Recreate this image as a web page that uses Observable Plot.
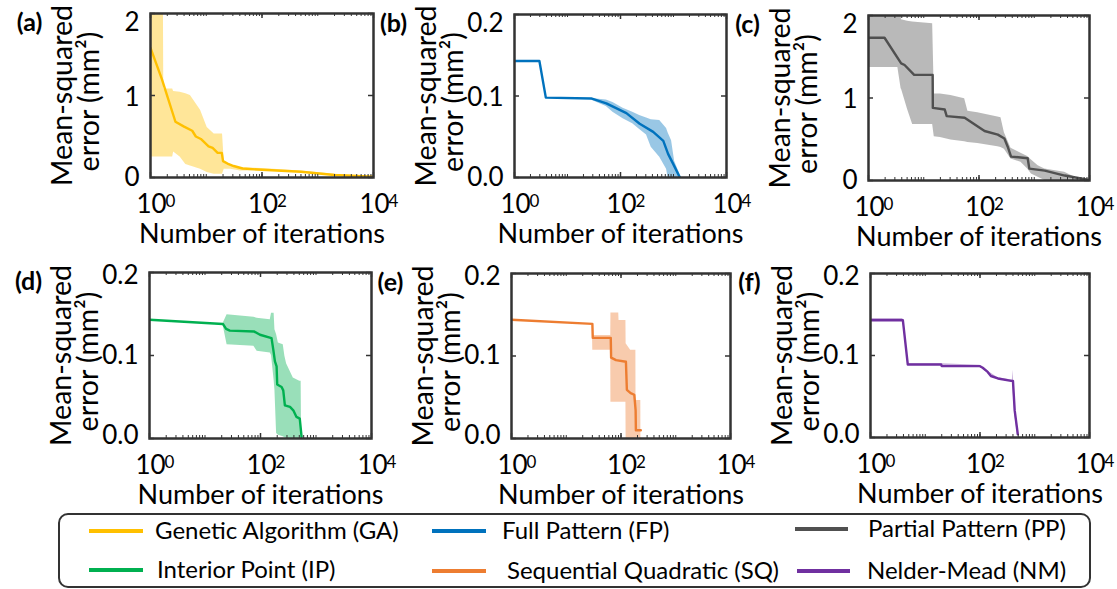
<!DOCTYPE html>
<html>
<head>
<meta charset="utf-8">
<script src="https://cdn.jsdelivr.net/npm/d3@7"></script>
<script src="https://cdn.jsdelivr.net/npm/@observablehq/plot@0.6"></script>
<style>
  html, body { margin: 0; padding: 0; background: #fff; }
  #root { position: relative; width: 1117px; height: 589px; overflow: hidden; font-family: Lato, sans-serif; }
  #root svg { position: absolute; }
  .legend-box { position: absolute; left: 58px; top: 513px; width: 1029px; height: 71px; border: 2px solid #333; border-radius: 10px; }
  .sw { position: absolute; height: 4px; }
  .lt { position: absolute; font-size: 24px; line-height: 1.2; white-space: nowrap; color: #000; }
</style>
</head>
<body>
<div id="root"></div>
<script>
// ---------- data ----------
const seriesNames = ["Genetic Algorithm (GA)", "Full Pattern (FP)", "Partial Pattern (PP)", "Interior Point (IP)", "Sequential Quadratic (SQ)", "Nelder-Mead (NM)"];
const seriesColors = ["#FFC000", "#0072BD", "#505050", "#00B050", "#ED7D31", "#7030A0"];
const panelLetters = ["a", "b", "c", "d", "e", "f"];
const xTickValues = [1, 100, 10000];
const xTickBase = "10";
const xTickExponents = ["0", "2", "4"];
const yTicksTop = [0, 1, 2];
const yTickLabelsTop = ["0", "1", "2"];
const yTicksSmall = [0, 0.1, 0.2];
const yTickLabelsSmall = ["0.0", "0.1", "0.2"];
const xLabel = "Number of iterations";
const yLabelLines = ["Mean-squared", "error (mm²)"];

// GA
const gaIter = [1, 1.6, 2.8, 4, 5.6, 6.5, 8, 11, 13, 16, 19, 20, 24, 31, 45, 100, 500, 2000, 10000];
const gaMse  = [1.58, 1.2, 0.68, 0.62, 0.57, 0.5, 0.47, 0.38, 0.36, 0.3, 0.3, 0.2, 0.17, 0.14, 0.11, 0.095, 0.07, 0.03, 0.01];
const gaBandIter = [1, 1.7, 1.73, 2.5, 2.6, 3.4, 4.3, 5.2, 7.9, 10.4, 13.9, 19.6, 21, 27.5, 41, 100, 500, 2000, 10000];
const gaBandLo   = [0.25, 0.25, 0.25, 0.25, 0.31, 0.25, 0.16, 0.14, 0.1, 0.06, 0.04, 0.04, 0.1, 0.1, 0.08, 0.08, 0.06, 0.025, 0.005];
const gaBandHi   = [2.3, 2.3, 1.08, 1.08, 1.05, 1.04, 1.02, 1.0, 0.82, 0.61, 0.53, 0.53, 0.2, 0.14, 0.12, 0.11, 0.08, 0.04, 0.015];

// FP
const fpIter = [1, 2.95, 3.9, 28, 54, 129, 230, 414, 642, 790, 980, 1320];
const fpMse  = [0.143, 0.143, 0.098, 0.097, 0.091, 0.079, 0.066, 0.056, 0.045, 0.029, 0.017, 0];
const fpBandIter = [28, 54, 72, 112, 170, 230, 310, 380, 550, 740, 790, 920, 1050, 1400];
const fpBandLo   = [0.095, 0.087, 0.08, 0.072, 0.066, 0.059, 0.052, 0.037, 0.025, 0.01, 0, 0, 0, 0];
const fpBandHi   = [0.097, 0.095, 0.092, 0.085, 0.08, 0.076, 0.073, 0.071, 0.07, 0.06, 0.055, 0.045, 0.02, 0];

// PP
const ppIter = [1, 1.95, 3.9, 4.5, 6.7, 14.5, 14.6, 24, 26, 55, 126, 219, 288, 331, 380, 760, 815, 1550, 3550, 9300, 10000];
const ppMse  = [1.73, 1.73, 1.42, 1.40, 1.28, 1.28, 0.88, 0.86, 0.78, 0.76, 0.6, 0.556, 0.51, 0.41, 0.29, 0.27, 0.144, 0.12, 0.06, 0.01, 0.005];
const ppBandIter = [1, 3.4, 3.9, 3.95, 5.1, 6.3, 14.5, 15.5, 20, 31, 55, 63, 95, 219, 250, 288, 380, 575, 760, 890, 1175, 1550, 3550, 4700, 6200, 10000];
const ppBandLo   = [1.37, 1.37, 1.11, 1.11, 0.86, 0.68, 0.68, 0.53, 0.52, 0.49, 0.47, 0.46, 0.45, 0.41, 0.40, 0.38, 0.26, 0.22, 0.14, 0.08, 0.04, 0, 0, 0, 0, 0];
const ppBandHi   = [2.2, 2.2, 2.2, 1.95, 1.93, 1.92, 1.9, 1.05, 1.05, 1.03, 0.99, 0.84, 0.82, 0.77, 0.76, 0.58, 0.39, 0.33, 0.29, 0.25, 0.18, 0.14, 0.1, 0.06, 0.02, 0];

// IP
const ipIter = [1, 21, 24, 28, 76, 98, 158, 170, 182, 195, 200, 240, 257, 275, 340, 390, 445, 510, 550];
const ipMse  = [0.143, 0.138, 0.132, 0.13, 0.129, 0.125, 0.121, 0.107, 0.093, 0.087, 0.065, 0.062, 0.058, 0.04, 0.038, 0.034, 0.026, 0.024, 0.002];
const ipBandIter = [21, 25, 76, 87, 150, 158, 176, 182, 195, 210, 257, 275, 295, 390, 510, 540, 550];
const ipBandLo   = [0.138, 0.113, 0.111, 0.105, 0.103, 0.1, 0.07, 0.058, 0.006, 0.004, 0.002, 0.001, 0, 0, 0, 0, 0];
const ipBandHi   = [0.138, 0.149, 0.146, 0.145, 0.143, 0.151, 0.151, 0.131, 0.125, 0.115, 0.113, 0.099, 0.09, 0.073, 0.069, 0.069, 0];

// SQ
const sqIter = [1, 30, 30.5, 65, 66, 81, 123, 128, 150, 175, 185, 187, 230];
const sqMse  = [0.144, 0.139, 0.122, 0.122, 0.098, 0.095, 0.093, 0.059, 0.055, 0.053, 0.034, 0.01, 0.01];
const sqBandIter = [30, 30.5, 65, 65.5, 91, 92, 123, 124, 150, 187, 188, 230, 231];
const sqBandLo   = [0.138, 0.107, 0.107, 0.044, 0.044, 0.044, 0.044, 0, 0, 0, 0, 0, 0];
const sqBandHi   = [0.139, 0.125, 0.125, 0.152, 0.152, 0.143, 0.143, 0.115, 0.107, 0.107, 0.046, 0.046, 0];

// NM
const nmIter = [1, 3.9, 4.8, 19.5, 20, 100, 112, 138, 158, 212, 370, 400, 430, 490];
const nmMse  = [0.143, 0.143, 0.089, 0.089, 0.087, 0.087, 0.085, 0.08, 0.075, 0.072, 0.069, 0.069, 0.033, 0.004];
const nmBandIter = [1, 3.9, 4.8, 19.5, 100, 138, 212, 390, 400, 430, 490];
const nmBandLo   = [0.142, 0.142, 0.088, 0.088, 0.086, 0.079, 0.071, 0.068, 0.06, 0.028, 0.001];
const nmBandHi   = [0.145, 0.145, 0.09, 0.09, 0.088, 0.081, 0.073, 0.07, 0.082, 0.04, 0.008];

// ---------- layout ----------
const frames = [ // [left, right, top, bottom] of each axes box, px
  [150, 373, 13, 177], [514, 726, 14, 177], [868, 1089, 15, 180],
  [149, 371, 272, 438], [511, 730, 273, 438], [870, 1089, 273, 437]
];
// vertical nudges of the y tick labels (bottom, middle, top), px
const topRowNudge = [0, 2, 9];
const bottomRowNudge = [-3, 0, 3];
const panels = [
  {iter: gaIter, mse: gaMse, bi: gaBandIter, lo: gaBandLo, hi: gaBandHi, yMax: 2, yt: yTicksTop, yl: yTickLabelsTop, nudge: topRowNudge},
  {iter: fpIter, mse: fpMse, bi: fpBandIter, lo: fpBandLo, hi: fpBandHi, yMax: 0.2, yt: yTicksSmall, yl: yTickLabelsSmall, nudge: topRowNudge},
  {iter: ppIter, mse: ppMse, bi: ppBandIter, lo: ppBandLo, hi: ppBandHi, yMax: 2, yt: yTicksTop, yl: yTickLabelsTop, nudge: topRowNudge},
  {iter: ipIter, mse: ipMse, bi: ipBandIter, lo: ipBandLo, hi: ipBandHi, yMax: 0.2, yt: yTicksSmall, yl: yTickLabelsSmall, nudge: bottomRowNudge},
  {iter: sqIter, mse: sqMse, bi: sqBandIter, lo: sqBandLo, hi: sqBandHi, yMax: 0.2, yt: yTicksSmall, yl: yTickLabelsSmall, nudge: bottomRowNudge},
  {iter: nmIter, mse: nmMse, bi: nmBandIter, lo: nmBandLo, hi: nmBandHi, yMax: 0.2, yt: yTicksSmall, yl: yTickLabelsSmall, nudge: bottomRowNudge}
];

const root = document.getElementById("root");
const minorTicks = d3.scaleLog().domain([1, 1e4]).ticks();
const ML = 135, MR = 30, MT = 14, MB = 75;
const axisColor = "#333";

panels.forEach((p, i) => {
  const [l, r, t, b] = frames[i];
  const fw = r - l, fh = b - t;
  const color = seriesColors[i];
  const line = p.iter.map((x, k) => ({x, y: p.mse[k]}));
  const band = p.bi.map((x, k) => ({x, y1: p.lo[k], y2: p.hi[k]}));
  const yLabelMarks = p.yt.map((v, k) =>
    Plot.text([v], {x: 1, y: (d) => d, text: () => p.yl[k], textAnchor: "end", lineAnchor: "middle", dx: -11, dy: p.nudge[k], fontSize: 26})
  );
  const svg = Plot.plot({
    width: fw + ML + MR, height: fh + MT + MB,
    marginLeft: ML, marginRight: MR, marginTop: MT, marginBottom: MB,
    style: {background: "transparent", overflow: "visible", fontFamily: "Lato, sans-serif", fontSize: "24px", color: "#000"},
    x: {type: "log", domain: [1, 1e4], axis: null},
    y: {domain: [0, p.yMax], axis: null},
    marks: [
      Plot.areaY(band, {x: "x", y1: "y1", y2: "y2", fill: color, fillOpacity: 0.4, clip: true}),
      Plot.line(line, {x: "x", y: "y", stroke: color, strokeWidth: 2.4, clip: true}),
      Plot.ruleX(minorTicks, {x: (d) => d, stroke: axisColor, strokeWidth: 1, insetTop: fh - 3}),
      Plot.ruleX(minorTicks, {x: (d) => d, stroke: axisColor, strokeWidth: 1, insetBottom: fh - 3}),
      Plot.ruleX(xTickValues, {x: (d) => d, stroke: axisColor, strokeWidth: 1.5, insetTop: fh - 5}),
      Plot.ruleX(xTickValues, {x: (d) => d, stroke: axisColor, strokeWidth: 1.5, insetBottom: fh - 5}),
      Plot.ruleY(p.yt, {y: (d) => d, stroke: axisColor, strokeWidth: 1.5, insetRight: fw - 5}),
      Plot.ruleY(p.yt, {y: (d) => d, stroke: axisColor, strokeWidth: 1.5, insetLeft: fw - 5}),
      Plot.frame({stroke: axisColor, strokeWidth: 2.5}),
      // x tick labels: base "10" and raised exponent
      Plot.text(xTickValues, {x: (d) => d, frameAnchor: "bottom", text: () => xTickBase, textAnchor: "middle", lineAnchor: "bottom", dx: 1, dy: 35, fontSize: 26}),
      Plot.text(xTickValues, {x: (d) => d, frameAnchor: "bottom", text: (d, k) => xTickExponents[k], textAnchor: "start", lineAnchor: "bottom", dx: 15, dy: 29, fontSize: 17}),
      ...yLabelMarks,
      Plot.text([xLabel], {text: (d) => d, frameAnchor: "bottom", textAnchor: "middle", lineAnchor: "bottom", dy: 65, fontSize: 27}),
      Plot.text([yLabelLines[0]], {text: (d) => d, frameAnchor: "left", textAnchor: "middle", lineAnchor: "middle", rotate: -90, dx: -88, fontSize: 28.5}),
      Plot.text([yLabelLines[1]], {text: (d) => d, frameAnchor: "left", textAnchor: "middle", lineAnchor: "middle", rotate: -90, dx: -61, dy: 6, fontSize: 28.5}),
      Plot.text([`(${panelLetters[i]})`], {text: (d) => d, frameAnchor: "top-left", textAnchor: "middle", lineAnchor: "middle", dx: -121, dy: 9, fontSize: 25, fontWeight: "bold"})
    ]
  });
  svg.style.left = (l - ML) + "px";
  svg.style.top = (t - MT) + "px";
  root.appendChild(svg);
});

// ---------- legend ----------
const box = document.createElement("div");
box.className = "legend-box";
root.appendChild(box);
const legendPos = [ // [swatchLeft, swatchRight, y, textLeft]
  [89, 143, 531, 155], [432, 486, 531, 502], [795, 848, 529, 868],
  [89, 143, 570, 157], [432, 486, 571, 507], [797, 850, 571, 867]
];
seriesNames.forEach((name, s) => {
  const [x0, x1, y, tx] = legendPos[s];
  const sw = document.createElement("div");
  sw.className = "sw";
  sw.style.left = x0 + "px"; sw.style.width = (x1 - x0) + "px"; sw.style.top = (y - 2) + "px";
  sw.style.background = seriesColors[s];
  root.appendChild(sw);
  const tt = document.createElement("div");
  tt.className = "lt";
  tt.style.left = tx + "px"; tt.style.top = (y - 15) + "px";
  tt.textContent = name;
  root.appendChild(tt);
});
</script>
</body>
</html>
